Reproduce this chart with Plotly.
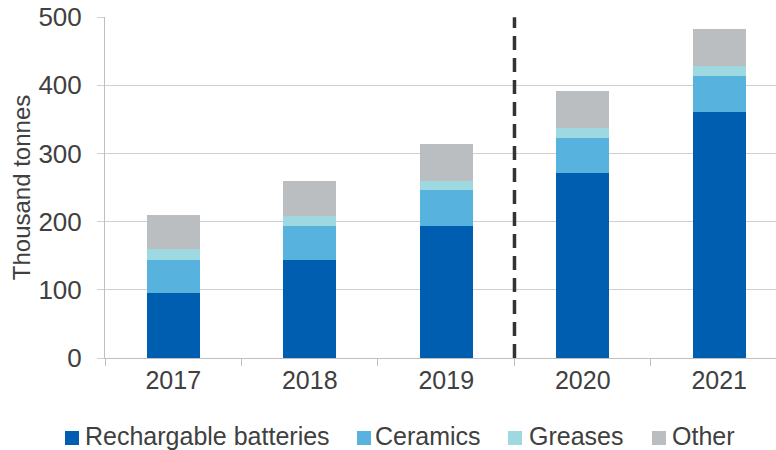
import plotly.graph_objects as go

years = ["2017", "2018", "2019", "2020", "2021"]
batteries = [96, 144, 194, 271, 361]
ceramics = [48, 50, 53, 51, 53]
greases = [16, 15, 13, 15, 14]
other = [50, 51, 54, 55, 55]

names = ["Rechargable batteries", "Ceramics", "Greases", "Other"]
values = [batteries, ceramics, greases, other]
colors = ["#005EB0", "#58B2DE", "#9ED8E0", "#BBBEC1"]

W, H = 776, 450
PL, PR, PT, PB = 105, 776, 17, 358  # plot area in page pixels


def px(x):
    return (x - PL) / (PR - PL)


def py(y):
    return (PB - y) / (PB - PT)


fig = go.Figure()
for name, vals, col in zip(names, values, colors):
    fig.add_trace(go.Bar(x=years, y=vals, name=name, showlegend=False,
                         marker=dict(color=col, line=dict(width=0))))

fig.add_shape(type="line", xref="x", yref="y", x0=2.5, x1=2.5, y0=0, y1=500,
              line=dict(color="#333333", width=3.5, dash="14px,8px"))

# legend drawn as squares + text (layout only)
sq_x = [65, 357, 508, 652]
tx_x = [84, 374, 528, 671]
for name, col, sx, tx in zip(names, colors, sq_x, tx_x):
    fig.add_shape(type="rect", xref="paper", yref="paper",
                  x0=px(sx), x1=px(sx + 14), y0=py(445), y1=py(431),
                  fillcolor=col, line=dict(width=0), layer="above")
    fig.add_annotation(text=name, xref="paper", yref="paper", x=px(tx), y=py(436),
                       xanchor="left", yanchor="middle", showarrow=False,
                       font=dict(size=25, color="#404040"), borderpad=0)

fig.update_layout(
    width=W, height=H,
    barmode="stack", bargap=0.61,
    margin=dict(l=PL, r=W - PR, t=PT, b=H - PB),
    paper_bgcolor="white", plot_bgcolor="white",
    font=dict(family="Liberation Sans, Arial, sans-serif", color="#404040", size=25),
    showlegend=False,
)
fig.update_xaxes(type="category", range=[-0.5, 4.416], automargin=False,
                 showline=True, linecolor="#BFBFBF", linewidth=1,
                 ticks="outside", tickson="boundaries", ticklen=7, tickcolor="#BFBFBF",
                 showgrid=False, tickfont=dict(size=25))
fig.update_yaxes(range=[0, 500.2], tickmode="array", tickvals=[0, 100, 200, 300, 400, 500],
                 showgrid=True, gridcolor="#D0D0D0", gridwidth=1,
                 showline=True, linecolor="#BFBFBF", linewidth=1, automargin=False,
                 ticks="outside", ticklen=7, tickcolor="#D0D0D0", ticklabelstandoff=10,
                 ticklabeloverflow="allow",
                 title=dict(text="Thousand tonnes", font=dict(size=24), standoff=1),
                 tickfont=dict(size=26), zeroline=False)

fig.write_html("out.html", config={"displayModeBar": False},
               post_script="document.body.style.margin='0';document.body.style.overflow='hidden';")
